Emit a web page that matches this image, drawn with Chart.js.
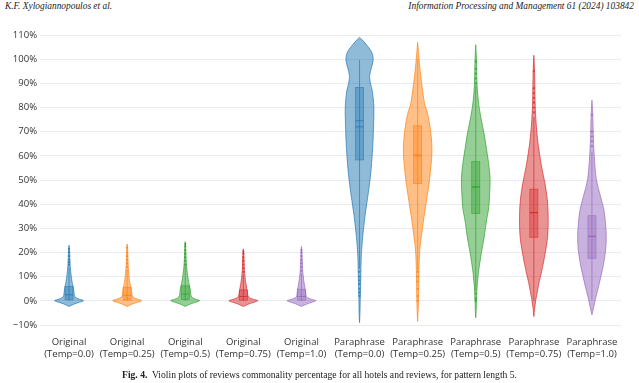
<!DOCTYPE html>
<html><head><meta charset="utf-8">
<script src="https://cdn.jsdelivr.net/npm/chart.js@4.4.1/dist/chart.umd.min.js"></script>
<style>
html,body{margin:0;padding:0;background:#fff;}
#wrap{position:relative;width:639px;height:383px;overflow:hidden;background:#fff;}
#chart{position:absolute;left:0;top:0;}
.hdr{position:absolute;top:1px;font:italic 9.4px "Liberation Serif",serif;color:#222;white-space:nowrap;}
#cap{position:absolute;top:369px;left:0;width:639px;text-align:center;font:9.6px "Liberation Serif",serif;color:#222;white-space:nowrap;}
</style></head><body>
<div id="wrap">
<div class="hdr" style="left:5px">K.F. Xylogiannopoulos et al.</div>
<div class="hdr" style="right:5px">Information Processing and Management 61 (2024) 103842</div>
<canvas id="chart" width="639" height="383" style="width:639px;height:383px"></canvas>
<div id="cap"><b>Fig. 4.</b>&nbsp; Violin plots of reviews commonality percentage for all hotels and reviews, for pattern length 5.</div>
</div>
<script>
// ---- categories / ticks ----
const categories = [
  ['Original','(Temp=0.0)'],['Original','(Temp=0.25)'],['Original','(Temp=0.5)'],['Original','(Temp=0.75)'],['Original','(Temp=1.0)'],
  ['Paraphrase','(Temp=0.0)'],['Paraphrase','(Temp=0.25)'],['Paraphrase','(Temp=0.5)'],['Paraphrase','(Temp=0.75)'],['Paraphrase','(Temp=1.0)']
];
const yTicks = [-10,0,10,20,30,40,50,60,70,80,90,100,110];

// ---- density profiles: [value %, relative density] ----
const violinOrig00 = [[-2.3,0],[-1.2,6],[0,14.5],[0.6,11],[1.3,7],[2,5.5],[3.5,5],[5,4.5],[6.5,3.8],[8,3],[10,2.3],[12.5,1.6],[15,1.1],[18,0.8],[21,0.5],[23,0]];
const violinOrig025 = [[-2.3,0],[-1.2,6],[0,14.5],[0.6,11],[1.3,7],[2,5.2],[3.5,4.6],[5,4],[6.5,3.3],[8,2.6],[10,2],[12.5,1.4],[15,1],[18,0.7],[21,0.5],[23.5,0]];
const violinOrig05 = [[-2.3,0],[-1.2,6],[0,14.5],[0.6,11],[1.3,7.5],[2,6],[3.5,5.4],[5,5],[6.5,4.2],[8,3.4],[10,2.6],[12.5,1.8],[15,1.2],[18,0.8],[21.5,0.5],[24.5,0]];
const violinOrig075 = [[-2.3,0],[-1.2,6],[0,14],[0.6,10],[1.3,6],[2,4.6],[3.5,4],[5,3.4],[6.5,2.8],[8,2.2],[10,1.6],[12.5,1.1],[15,0.8],[18,0.6],[21.5,0]];
const violinOrig10 = [[-2.3,0],[-1.2,6],[0,14],[0.6,10],[1.3,6],[2,4.6],[3.5,4.2],[5,3.6],[6.5,3],[8,2.4],[10,1.8],[12.5,1.2],[15,0.9],[18,0.6],[20.5,0.4],[22.5,0]];
const violinPara00 = [[-9,0],[-5,0.4],[0,0.6],[5,0.9],[10,1.2],[18,1.6],[24,2.5],[29,3.6],[35,5.2],[40.5,7],[45,8.5],[50,10],[55,11.2],[59.6,12],[65,12.8],[73.5,13.5],[80,13.7],[86,12.5],[90,10.5],[92.7,9.7],[95,10.5],[99.6,13],[103,11.5],[106,6.5],[108,2.5],[109,0]];
const violinPara025 = [[-8.5,0],[-4,0.5],[0,0.8],[5,1.0],[10,1.2],[16,1.5],[22,2.3],[27,3.8],[33,5.7],[38,7.5],[44,9.7],[50,11.8],[56,13.3],[62,14.2],[68,13.5],[74,11.5],[78,9.5],[82,6.7],[89,4.3],[96,2.3],[101,1.2],[104,0.6],[107,0]];
const violinPara05 = [[-7,0],[-3,0.5],[0,0.7],[5,1.2],[9,2],[13,3],[20,5.5],[26,8],[33,10.3],[38.5,12.5],[45,13.5],[51,13.8],[57.6,12.2],[63,10.3],[68.6,8.3],[74,5.8],[80,3.3],[85,2],[90,1.2],[96,0.9],[101,0.6],[106,0]];
const violinPara075 = [[-6.5,0],[-3,0.8],[0.6,2],[4,3.5],[7.4,5],[12,7.5],[18.3,10.5],[26.6,13.5],[34.8,14],[41.8,13.2],[48.7,10.8],[55,7.8],[62.4,5],[67,3.6],[72,2.5],[78,1.6],[83,1.2],[90,0.9],[96,0.6],[101.6,0]];
const violinPara10 = [[-5.8,0],[-3,1.5],[1.8,4],[6,6.5],[10,8.7],[14,10.8],[18.3,12.5],[22,13.6],[26.6,14],[32,13.3],[37.6,11.7],[43,8.5],[48.7,5],[53,3.5],[58.3,2.5],[65,1.6],[72,1.1],[78,0.7],[83,0]];
const profiles = [violinOrig00,violinOrig025,violinOrig05,violinOrig075,violinOrig10,violinPara00,violinPara025,violinPara05,violinPara075,violinPara10];

// ---- box statistics (%) ----
const q1s        = [0.4, 0.3, 0.5, 0.3, 0.3, 58.3, 48.5, 36.2, 26.3, 17.6];
const medians    = [2.5, 2.2, 2.8, 1.8, 1.8, 74.5, 60.3, 47.2, 36.5, 26.6];
const q3s        = [5.9, 5.5, 6.2, 4.5, 4.8, 88.3, 72.4, 57.6, 46.2, 35.2];
const means      = [3.6, 3.4, 3.9, 3.0, 3.1, 72.0, 60.0, 47.0, 36.5, 26.8];
const whiskerLow = [0, 0, 0, 0, 0, 13.3, 12.7, 4.1, 0, 0];
const whiskerHigh= [14, 13, 14.5, 11, 11.5, 99.6, 100, 89, 76, 61.6];
const outliers = [
  [15,16,17,18.5,20,21.5],
  [14,15.5,17,18.5,20,22],
  [15,16.5,18,19.5,21,22.5,23.5],
  [12,13.5,15,16.5,18,19.5,20.5],
  [12.5,14,15.5,17,18.5,20,21],
  [12,10,8.5,7,5,3.5,2],
  [12,10,8,5,2,0],
  [99,96,94,92,90,3,1,0],
  [95,88,86,84,82,80,78],
  [77,70,68,66,64]
];

const palette = ['31,119,180','255,127,14','44,160,44','214,39,40','148,103,189'];
const colorOf = i => palette[i % 5];

function smoothPath(ctx, pts, moveFirst){
  for(let i=0;i<pts.length;i++){
    const p = pts[i];
    if(i===0){ if(moveFirst) ctx.moveTo(p[0],p[1]); else ctx.lineTo(p[0],p[1]); continue; }
    const p0 = pts[i-2] || pts[i-1], p1 = pts[i-1], p2 = p, p3 = pts[i+1] || p;
    const t = 1/6;
    ctx.bezierCurveTo(p1[0]+(p2[0]-p0[0])*t, p1[1]+(p2[1]-p0[1])*t,
                      p2[0]-(p3[0]-p1[0])*t, p2[1]-(p3[1]-p1[1])*t, p2[0], p2[1]);
  }
}

const violinPlugin = {
  id:'violins',
  beforeDatasetsDraw(chart){
    const {ctx, scales:{x,y}} = chart;
    const unit = x.getPixelForValue(1) - x.getPixelForValue(0);
    const maxHalf = 0.246*unit;
    const boxHalf = 0.28*maxHalf;
    profiles.forEach((prof,i)=>{
      const c = colorOf(i);
      const cx = x.getPixelForValue(i);
      const dmax = Math.max(...prof.map(p=>p[1]));
      const right = prof.map(p=>[cx + p[1]/dmax*maxHalf, y.getPixelForValue(p[0])]);
      const left = prof.slice().reverse().map(p=>[cx - p[1]/dmax*maxHalf, y.getPixelForValue(p[0])]);
      ctx.save();
      ctx.beginPath();
      smoothPath(ctx, right, true);
      smoothPath(ctx, left, false);
      ctx.closePath();
      ctx.fillStyle = `rgba(${c},0.5)`;
      ctx.fill();
      ctx.strokeStyle = `rgba(${c},0.85)`;
      ctx.lineWidth = 0.8;
      ctx.stroke();
      // whisker
      ctx.strokeStyle = `rgba(${c},0.75)`;
      ctx.beginPath();
      ctx.moveTo(cx, y.getPixelForValue(whiskerLow[i]));
      ctx.lineTo(cx, y.getPixelForValue(whiskerHigh[i]));
      ctx.lineWidth = 0.9;
      ctx.stroke();
      // box
      const yt = y.getPixelForValue(q3s[i]), yb = y.getPixelForValue(q1s[i]);
      ctx.fillStyle = `rgba(${c},0.38)`;
      ctx.fillRect(cx-boxHalf, yt, boxHalf*2, yb-yt);
      ctx.lineWidth = 0.7;
      ctx.strokeRect(cx-boxHalf, yt, boxHalf*2, yb-yt);
      ctx.lineWidth = 1;
      ctx.beginPath();
      const ym = y.getPixelForValue(medians[i]);
      ctx.moveTo(cx-boxHalf, ym); ctx.lineTo(cx+boxHalf, ym);
      if(i>=5){
        const ymean = y.getPixelForValue(means[i]);
        ctx.moveTo(cx-boxHalf, ymean); ctx.lineTo(cx+boxHalf, ymean);
      }
      ctx.stroke();
      ctx.restore();
    });
  }
};

const outlierDatasets = outliers.map((arr,i)=>({
  data: arr.map(v=>({x:i, y:v})),
  pointRadius: 1.1,
  pointBackgroundColor: `rgba(${colorOf(i)},0.8)`,
  pointBorderWidth: 0
}));

const fmt = v => v<0 ? '\u2212'+Math.abs(v)+'%' : v+'%';
const tickFont = {family:'"Open Sans", sans-serif', size:9.5};

new Chart(document.getElementById('chart'), {
  type:'scatter',
  data:{datasets: outlierDatasets},
  options:{
    responsive:false, animation:false, devicePixelRatio:1,
    layout:{padding:{top:35,right:18,bottom:0,left:0}},
    plugins:{legend:{display:false}, tooltip:{enabled:false}},
    scales:{
      x:{type:'linear', min:-0.5, max:9.5,
         grid:{display:false, drawTicks:false}, border:{display:false},
         afterBuildTicks: s => { s.ticks = categories.map((c,i)=>({value:i})); },
         afterFit: s => { s.height = 58; },
         ticks:{padding:12, autoSkip:false, maxRotation:0, font:tickFont, color:'#333',
                callback: v => categories[v]}},
      y:{type:'linear', min:-10, max:110,
         afterBuildTicks: s => { s.ticks = yTicks.map(v=>({value:v})); },
         afterFit: s => { s.width = 40; },
         grid:{color:'#e8ebef', drawTicks:false, lineWidth:1}, border:{display:false},
         ticks:{padding:3, font:tickFont, color:'#333', callback: v => fmt(v)}}
    }
  },
  plugins:[violinPlugin]
});
</script>
</body></html>
